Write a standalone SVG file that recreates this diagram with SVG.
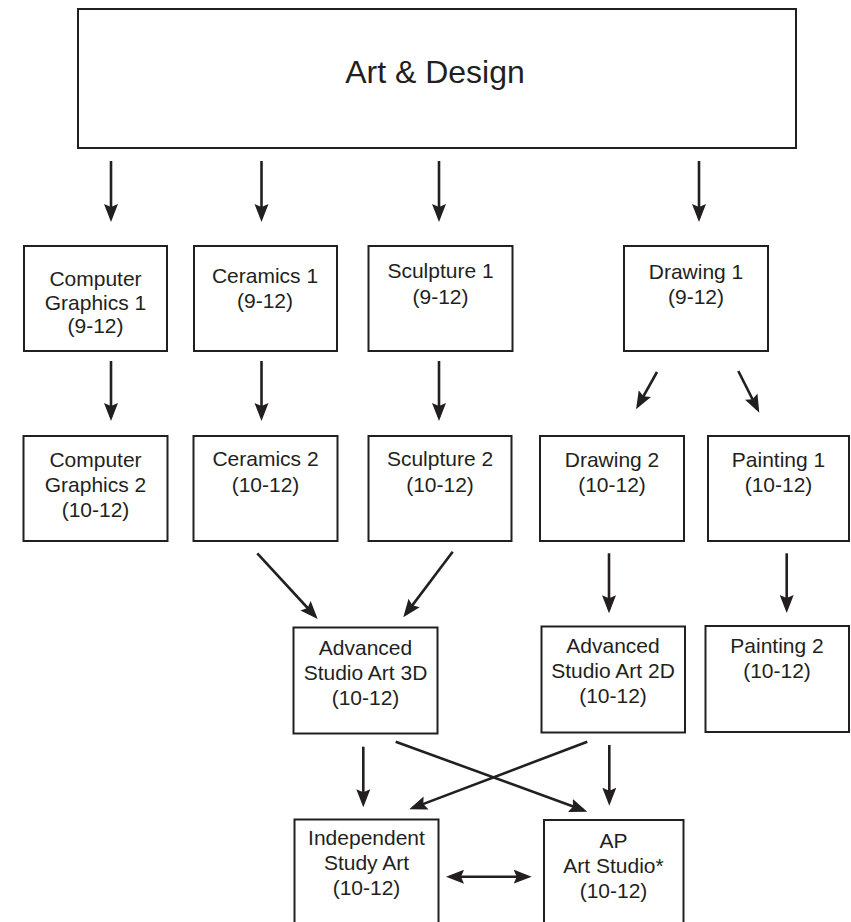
<svg xmlns="http://www.w3.org/2000/svg" width="851" height="922" viewBox="0 0 851 922">
<style>
.box{fill:#fff;stroke:#231f20;stroke-width:2}
.t{font-family:"Liberation Sans",Arial,sans-serif;font-size:21px;fill:#231f20;text-anchor:middle}
.big{font-size:32px}
.c{fill:none;stroke:#231f20;stroke-width:2.6;marker-end:url(#ah)}
.d{marker-start:url(#ah)}
</style>
<defs>
<marker id="ah" viewBox="0 -7.5 18 15" refX="14" refY="0" markerWidth="18" markerHeight="15" markerUnits="userSpaceOnUse" orient="auto-start-reverse">
<path d="M0,-7 L18,0 L0,7 L3,0 Z" fill="#231f20"/>
</marker>
</defs>
<rect width="851" height="922" fill="#fff"/>
<g id="art-design"><rect class="box" x="78" y="9" width="718" height="139"/><text class="t big" x="435" y="83">Art &amp; Design</text></g>
<g id="cg1"><rect class="box" x="24" y="246" width="143" height="105"/><text class="t" x="95.5" y="286">Computer</text><text class="t" x="95.5" y="310">Graphics 1</text><text class="t" x="95.5" y="333">(9-12)</text></g>
<g id="ceramics1"><rect class="box" x="194" y="246" width="143" height="105"/><text class="t" x="265" y="283">Ceramics 1</text><text class="t" x="265" y="308">(9-12)</text></g>
<g id="sculpture1"><rect class="box" x="368.5" y="246" width="144" height="105"/><text class="t" x="440.5" y="278">Sculpture 1</text><text class="t" x="440.5" y="304">(9-12)</text></g>
<g id="drawing1"><rect class="box" x="624" y="246" width="144" height="105"/><text class="t" x="696" y="279">Drawing 1</text><text class="t" x="696" y="304">(9-12)</text></g>
<g id="cg2"><rect class="box" x="23.5" y="436" width="144" height="105"/><text class="t" x="95.5" y="467">Computer</text><text class="t" x="95.5" y="492">Graphics 2</text><text class="t" x="95.5" y="517">(10-12)</text></g>
<g id="ceramics2"><rect class="box" x="193.5" y="436" width="144" height="105"/><text class="t" x="265.5" y="466">Ceramics 2</text><text class="t" x="265.5" y="492">(10-12)</text></g>
<g id="sculpture2"><rect class="box" x="368.5" y="436" width="143" height="105"/><text class="t" x="440" y="466">Sculpture 2</text><text class="t" x="440" y="492">(10-12)</text></g>
<g id="drawing2"><rect class="box" x="540" y="436" width="144" height="105"/><text class="t" x="612" y="467">Drawing 2</text><text class="t" x="612" y="492">(10-12)</text></g>
<g id="painting1"><rect class="box" x="708" y="436" width="141" height="105"/><text class="t" x="778.5" y="467">Painting 1</text><text class="t" x="778.5" y="492">(10-12)</text></g>
<g id="adv3d"><rect class="box" x="293.5" y="627.5" width="144" height="106"/><text class="t" x="365.5" y="655">Advanced</text><text class="t" x="365.5" y="680">Studio Art 3D</text><text class="t" x="365.5" y="705">(10-12)</text></g>
<g id="adv2d"><rect class="box" x="541.5" y="626.5" width="143.5" height="106"/><text class="t" x="613" y="653">Advanced</text><text class="t" x="613" y="678">Studio Art 2D</text><text class="t" x="613" y="703">(10-12)</text></g>
<g id="painting2"><rect class="box" x="705.5" y="626" width="143.5" height="106"/><text class="t" x="777" y="653">Painting 2</text><text class="t" x="777" y="678">(10-12)</text></g>
<g id="independent"><rect class="box" x="294.5" y="819.5" width="144" height="110"/><text class="t" x="366.5" y="845">Independent</text><text class="t" x="366.5" y="870">Study Art</text><text class="t" x="366.5" y="895">(10-12)</text></g>
<g id="ap"><rect class="box" x="544" y="820" width="139.5" height="110"/><text class="t" x="613.5" y="848">AP</text><text class="t" x="613.5" y="873">Art Studio*</text><text class="t" x="613.5" y="898">(10-12)</text></g>
<g id="connectors">
<path class="c" d="M111,161 L111,218"/>
<path class="c" d="M261.5,161 L261.5,218"/>
<path class="c" d="M439,161 L439,218"/>
<path class="c" d="M699,161 L699,218"/>
<path class="c" d="M111,361 L111,417"/>
<path class="c" d="M261.5,361 L261.5,417"/>
<path class="c" d="M439,361 L439,417"/>
<path class="c" d="M657,372 L638,405.8"/>
<path class="c" d="M738.3,371 L757.5,409.1"/>
<path class="c" d="M257.3,553.3 L315,616"/>
<path class="c" d="M452.7,551.7 L405.7,614.1"/>
<path class="c" d="M609,553.3 L609,609.3"/>
<path class="c" d="M786.7,553.3 L786.7,609"/>
<path class="c" d="M363.3,746.7 L363.3,803.3"/>
<path class="c" d="M609.3,745 L609.3,801.7"/>
<path class="c" d="M395.7,741.7 L583.5,810.3"/>
<path class="c" d="M587.3,741.7 L413,807.9"/>
<path class="c d" d="M450,876.7 L527.7,876.7"/>
</g>
</svg>
